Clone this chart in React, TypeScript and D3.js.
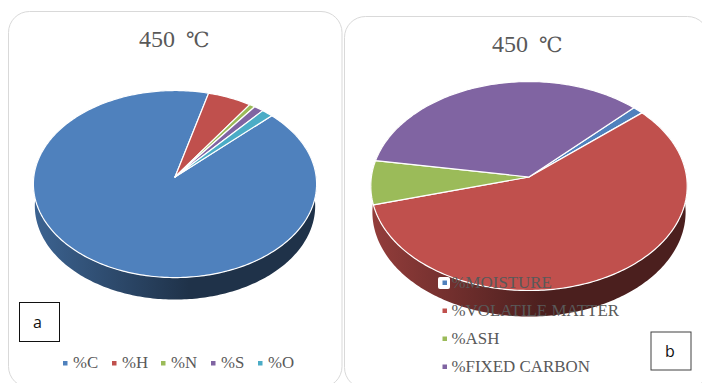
import React from "react";
import * as d3 from "d3";

// Ultimate composition of the char at 450 °C
const ultimateLabels = ["%C", "%H", "%N", "%S", "%O"];
const ultimateValues = [91.3, 5.4, 0.7, 1.2, 1.4];
const ultimateColors = ["#4f81bd", "#c0504d", "#9bbb59", "#8064a2", "#4bacc6"];

// Proximate composition of the char at 450 °C
const proximateLabels = ["%MOISTURE", "%VOLATILE MATTER", "%ASH", "%FIXED CARBON"];
const proximateValues = [1.2, 57.1, 6.8, 34.9];
const proximateColors = ["#4f81bd", "#c0504d", "#9bbb59", "#8064a2"];

const serif = "'Liberation Serif', 'Times New Roman', serif";
const textGrey = "#595959";

type PieProps = {
  id: string;
  values: number[];
  colors: string[];
  firstAngleDeg: number;
  cx: number;
  cy: number;
  radiusX: number;
  radiusY: number;
  tilt: number;
  depth: number;
};

// Tilted pie: a unit circle is sent through a perspective projection, so the
// centre of the pie sits above the centre of the ellipse it draws.
function Pie3D({ id, values, colors, firstAngleDeg, cx, cy, radiusX, radiusY, tilt, depth }: PieProps) {
  const start = (firstAngleDeg * Math.PI) / 180;
  const arcs = d3
    .pie<number>()
    .sort(null)
    .startAngle(start)
    .endAngle(start + 2 * Math.PI)(values);

  const project = (theta: number, shift = 0, shrink = 1): [number, number] => {
    const u = Math.sin(theta);
    const v = -Math.cos(theta);
    const w = 1 - tilt * v;
    return [cx + (radiusX * shrink * u) / w, cy + shift + (radiusY * v) / w];
  };
  const sample = (a0: number, a1: number) => {
    const n = Math.max(2, Math.ceil(((a1 - a0) * 180) / Math.PI));
    return d3.range(n + 1).map((i) => a0 + ((a1 - a0) * i) / n);
  };
  const line = d3.line<[number, number]>();

  // The rim is only seen below the pie, in the colour of the slice facing the viewer.
  const front = arcs.find(
    (a) =>
      (a.startAngle <= Math.PI && a.endAngle >= Math.PI) ||
      (a.startAngle <= 3 * Math.PI && a.endAngle >= 3 * Math.PI),
  );
  const rimColor = d3.rgb(colors[front ? front.index : 0]);
  const rimAngles = sample(Math.PI / 3, (5 * Math.PI) / 3);
  const rimTop = rimAngles.map((t) => project(t));
  const rimBottom = rimAngles.map((t) => project(t, depth, 0.99)).reverse();

  return (
    <g>
      <defs>
        <linearGradient
          id={`${id}-rim`}
          gradientUnits="userSpaceOnUse"
          x1={cx - radiusX}
          x2={cx + radiusX}
          y1={0}
          y2={0}
        >
          <stop offset="0" stopColor={rimColor.darker(0.75).formatHex()} />
          <stop offset="0.55" stopColor={rimColor.darker(2.65).formatHex()} />
          <stop offset="1" stopColor={rimColor.darker(2.65).formatHex()} />
        </linearGradient>
      </defs>
      <path d={`${line([...rimTop, ...rimBottom])}Z`} fill={`url(#${id}-rim)`} />
      {arcs.map((a, i) => {
        const rim = sample(a.startAngle, a.endAngle).map((t) => project(t));
        return (
          <path
            key={i}
            d={`${line([[cx, cy], ...rim])}Z`}
            fill={colors[i]}
            stroke="#ffffff"
            strokeWidth={1.2}
            strokeLinejoin="round"
          />
        );
      })}
    </g>
  );
}

function Title({ x, y }: { x: number; y: number }) {
  return (
    <text x={x} y={y} fontFamily={serif} fontSize={24} fill={textGrey}>
      450
      <tspan x={x + 47} fontFamily="'DejaVu Serif', serif" fontSize={21}>
        ℃
      </tspan>
    </text>
  );
}

function Tag({
  x,
  y,
  w,
  h,
  label,
  labelX,
  stroke,
}: {
  x: number;
  y: number;
  w: number;
  h: number;
  label: string;
  labelX: number;
  stroke: string;
}) {
  return (
    <g>
      <rect x={x} y={y} width={w} height={h} fill="#ffffff" stroke={stroke} strokeWidth={1} />
      <text
        x={labelX}
        y={y + h / 2 + 6}
        textAnchor="middle"
        fontFamily="'Open Sans', sans-serif"
        fontSize={16}
        fill="#111111"
      >
        {label}
      </text>
    </g>
  );
}

const ultimateSwatchX = [63, 112, 161, 211, 258];
const proximateRowY = [283, 311, 339, 367];

export default function App() {
  return (
    <svg
      width={702}
      height={383}
      viewBox="0 0 702 383"
      style={{ position: "absolute", left: 0, top: 0, display: "block", background: "#ffffff" }}
    >
      <rect x={8.5} y={11.5} width={333.5} height={376} rx={21} fill="#ffffff" stroke="#d9d9d9" strokeWidth={1} />
      <rect x={344.5} y={16.5} width={364} height={372} rx={21} fill="#ffffff" stroke="#d9d9d9" strokeWidth={1} />

      <Title x={139} y={47} />
      <Pie3D
        id="ultimate"
        values={ultimateValues}
        colors={ultimateColors}
        firstAngleDeg={46.1}
        cx={175}
        cy={177}
        radiusX={141.2}
        radiusY={93}
        tilt={0.0753}
        depth={22}
      />
      <Tag x={19.5} y={302.5} w={40} h={39} label="a" labelX={37.5} stroke="#111111" />
      {ultimateLabels.map((label, i) => (
        <g key={label}>
          <rect x={ultimateSwatchX[i]} y={361} width={4.5} height={4.5} fill={ultimateColors[i]} />
          <text x={ultimateSwatchX[i] + 10} y={368} fontFamily={serif} fontSize={16.8} fill={textGrey}>
            {label}
          </text>
        </g>
      ))}

      <Title x={492} y={52} />
      <Pie3D
        id="proximate"
        values={proximateValues}
        colors={proximateColors}
        firstAngleDeg={44.9}
        cx={529}
        cy={177}
        radiusX={157.6}
        radiusY={103.7}
        tilt={0.0865}
        depth={26}
      />
      <rect x={438} y={277} width={12} height={12} rx={2} fill="#ffffff" />
      {proximateLabels.map((label, i) => (
        <g key={label}>
          <rect x={442.5} y={proximateRowY[i] - 2.5} width={4.5} height={4.5} fill={proximateColors[i]} />
          <text x={451.5} y={proximateRowY[i] + 5} fontFamily={serif} fontSize={16.9} fill={textGrey}>
            {label}
          </text>
        </g>
      ))}
      <Tag x={651} y={332} w={40} h={38} label="b" labelX={670} stroke="#404040" />
    </svg>
  );
}
